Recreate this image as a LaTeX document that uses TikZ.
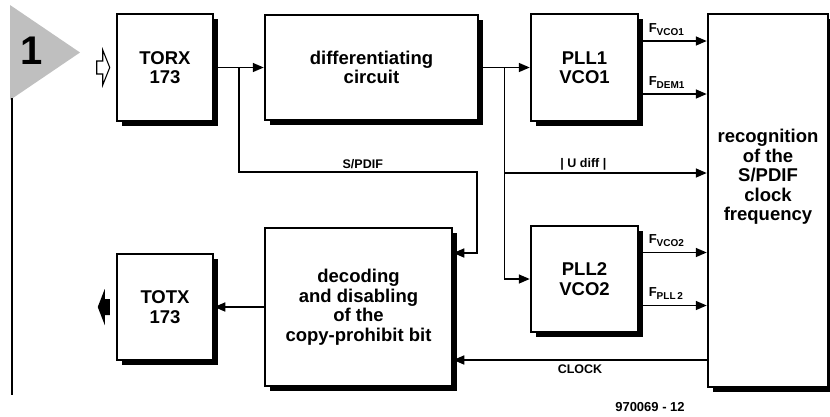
\documentclass[tikz,border=0pt]{standalone}
\usepackage{fontspec}
\setmainfont{Liberation Sans}
\usetikzlibrary{positioning,arrows.meta,calc,shadows}
\newcommand{\fsub}[1]{\raisebox{-3pt}{\fontsize{10}{11}\selectfont #1}}

\begin{document}
\begin{tikzpicture}[x=1pt,y=-1pt,>={Triangle[length=11pt,width=9pt]},
  font=\bfseries\fontsize{12.5}{14}\selectfont,
  blk/.style={draw,line width=2.5pt,fill=white,align=center,inner sep=0pt,
    font=\bfseries\fontsize{18.5}{19.5}\selectfont,
    drop shadow={shadow xshift=4.5pt,shadow yshift=-4.5pt,fill=black,opacity=1}},
  conn/.style={->,line width=1.6pt},
  lbl/.style={inner sep=2pt}]
\useasboundingbox (0,0) rectangle (830,416);

% figure tab
\fill[black!25] (10,5) -- (10,100) -- (80,52.5) -- cycle;
\node (fignum) at (31.5,51) {\fontsize{40}{40}\selectfont 1};
\draw[line width=2pt] (12,98) -- (12,395);

% blocks
\node[blk,minimum width=96pt,minimum height=107pt] (torx) at (165,67.5) {TORX\\173};
\node[blk,minimum width=213pt,minimum height=105pt,right=49.5pt of torx] (diff) {differentiating\\circuit};
\node[blk,minimum width=107pt,minimum height=107pt,right=50.5pt of diff] (pll1) {PLL1\\VCO1};
\node[blk,minimum width=107pt,minimum height=106pt] (pll2) at (584.5,279) {PLL2\\VCO2};
\node[blk,minimum width=120pt,minimum height=373pt] (recog) at (768,200.5) {};
\node[align=center,font=\bfseries\fontsize{18.5}{19.5}\selectfont] (recogtxt) at (768,177)
  {recognition\\of the\\S/PDIF\\clock\\frequency};
\node[blk,minimum width=187pt,minimum height=158pt] (dec) at (358.5,307)
  {decoding\\and disabling\\of the\\copy-prohibit bit};
\node[blk,minimum width=96pt,minimum height=106pt,left=49.5pt of dec] (totx) {TOTX\\173};

% optical in/out
\coordinate (optin) at ([xshift=-6pt]torx.west);
\draw[line width=1.1pt] (optin) -- ++(-7,-17.5) -- ++(0,11) -- ++(-6,0) -- ++(0,13)
  -- ++(6,0) -- ++(0,11) -- cycle;
\coordinate (optout) at ([xshift=-6pt]totx.west);
\fill (optout) ++(0,-8) -- ++(-5,0) -- ++(0,-10) -- ++(-7,18) -- ++(7,18) -- ++(0,-10)
  -- ++(5,0) -- cycle;

% signal paths
\draw[conn] (torx) -- (diff);
\coordinate (spl) at ($(torx.east)!0.5!(diff.west)$);
\coordinate (spr) at (477,172);
\draw[conn] (spl) |- (spr) node[pos=0.76,above,lbl] (lspdif) {S/PDIF}
  |- ([yshift=54pt]dec.east);

\draw[conn] (diff) -- (pll1);
\coordinate (br) at ($(diff.east)!0.5!(pll1.west)$);
\draw[conn] (br) |- (pll2);
\coordinate (udiff) at ([yshift=27.5pt]recog.west);
\draw[conn] (br |- udiff) -- (udiff) node[pos=0.39,above,lbl] (ludiff) {| U diff |};

\foreach \blk/\fa/\fb in {pll1/VCO1/DEM1,pll2/VCO2/PLL\,2}{
  \coordinate (\blk-a) at ([yshift=26.5pt]\blk.east);
  \coordinate (\blk-b) at ([yshift=-26.5pt]\blk.east);
  \draw[conn] (\blk-a) -- (\blk-a -| recog.west)
    node[pos=0.1,anchor=south west,lbl,yshift=3pt] (\blk-la) {\fontsize{13}{14}\selectfont F\fsub{\fa}};
  \draw[conn] (\blk-b) -- (\blk-b -| recog.west)
    node[pos=0.1,anchor=south west,lbl,yshift=3pt] (\blk-lb) {\fontsize{13}{14}\selectfont F\fsub{\fb}};
}

\coordinate (clk) at ([yshift=-159.5pt]recog.west);
\draw[conn] (clk) -- (clk -| dec.east) node[midway,below,lbl,yshift=-2pt] (lclock) {CLOCK};
\draw[conn] (dec) -- (totx);

\node (code) at (650,407) {\fontsize{13}{14}\selectfont 970069 - 12};
\end{tikzpicture}
\end{document}
